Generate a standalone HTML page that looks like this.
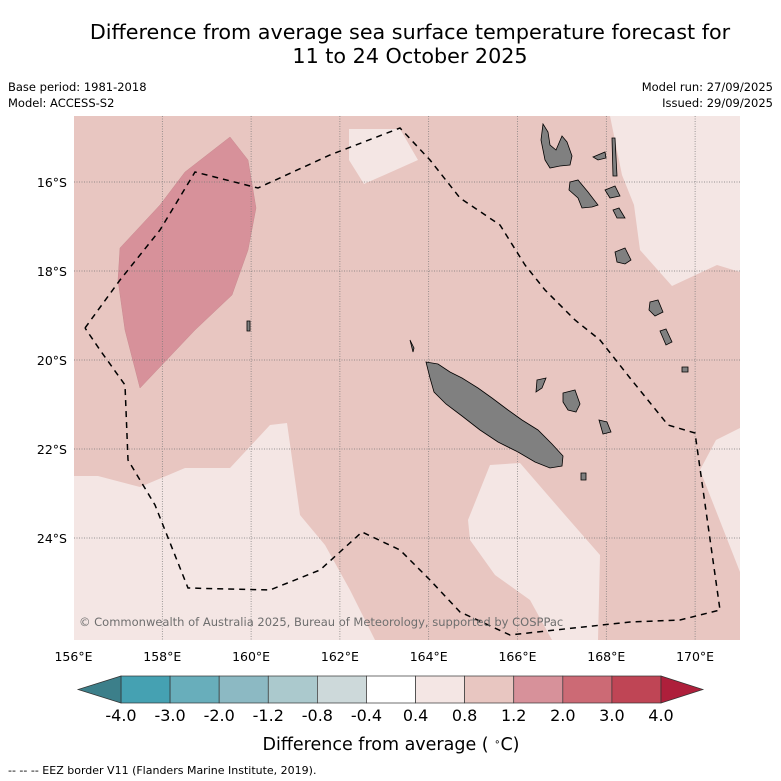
<!DOCTYPE html>
<html><head><meta charset="utf-8"><style>
body{margin:0;background:#fff;font-family:"DejaVu Sans","Liberation Sans",sans-serif}
svg{display:block}
</style></head><body>
<svg width="781" height="781" viewBox="0 0 781 781">
<text x="410" y="39" font-size="20.7" text-anchor="middle">Difference from average sea surface temperature forecast for</text>
<text x="410" y="63" font-size="20.7" text-anchor="middle">11 to 24 October 2025</text>
<text x="8" y="91" font-size="11.5">Base period: 1981-2018</text>
<text x="8" y="107" font-size="11.5">Model: ACCESS-S2</text>
<text x="773" y="91" font-size="11.5" text-anchor="end">Model run: 27/09/2025</text>
<text x="773" y="107" font-size="11.5" text-anchor="end">Issued: 29/09/2025</text>
<g id="map">
<rect x="74" y="116" width="666" height="524" fill="#e8c6c1"/>
<g fill="#f4e6e4">
<polygon points="349,129 400,129 418,160 364,184 349,160"/>
<polygon points="610,116 740,116 740,272 717,265 672,286 640,250 634,205 622,175"/>
<polygon points="740,428 716,440 700,470 740,572"/>
<polygon points="468,520 490,465 520,463 565,515 600,555 598,640 552,640 530,600 495,575 470,540"/>
<polygon points="74,476 98,476 140,487 185,468 230,468 270,425 287,423 300,515 325,545 350,590 375,640 74,640"/>
</g>
<polygon points="120,248 160,205 185,172 230,137 248,160 256,208 248,250 232,295 195,330 140,388 125,330 118,280" fill="#d7919a" stroke="#c98a90" stroke-width="0.5"/>
<g id="grid" stroke="#777" stroke-width="0.7" stroke-dasharray="1,1.5"></g>
<g fill="#808080" stroke="#000" stroke-width="0.8">
<polygon points="426,362 438,364 450,372 462,378 478,388 492,398 508,410 522,420 538,430 552,444 563,456 562,466 550,468 535,462 518,452 498,442 480,430 462,416 446,404 434,392 430,378"/>
<polygon points="543,124 548,132 550,145 556,150 562,136 567,142 572,156 570,165 560,166 550,168 545,160 541,140"/>
<polygon points="570,182 578,180 588,192 598,205 592,207 582,208 578,198 569,190"/>
<polygon points="593,157 605,152 606,158 598,160"/>
<polygon points="605,190 615,186 620,196 610,198"/>
<polygon points="612,138 615,138 617,176 613,176"/>
<polygon points="613,210 619,208 625,218 617,218"/>
<polygon points="615,252 625,248 631,260 625,264 617,262"/>
<polygon points="650,302 658,300 663,312 655,316 649,310"/>
<polygon points="660,331 666,329 672,342 666,345"/>
<polygon points="682,367 688,367 688,372 682,372"/>
<polygon points="563,393 575,390 580,404 576,412 568,410 563,402"/>
<polygon points="599,420 607,422 611,432 603,434"/>
<polygon points="581,473 586,473 586,480 581,480"/>
<polygon points="410,340 414,348 413,352"/>
<polygon points="247,321 250,321 250,331 247,331"/>
<polygon points="537,380 546,378 542,388 536,392"/>
</g>
<polyline fill="none" stroke="#000" stroke-width="1.5" stroke-dasharray="6,5" points="85,328 120,280 160,230 195,172 258,188 330,155 400,128 430,160 460,198 500,225 525,265 545,290 575,320 600,340 630,378 668,425 695,433 720,610 680,620 630,622 555,630 510,635 460,612 430,580 400,550 362,532 320,570 270,590 188,588 155,505 128,460 125,385 100,350 85,328"/>
<text x="79" y="626" font-size="11.5" fill="#6e6e6e">© Commonwealth of Australia 2025, Bureau of Meteorology, supported by COSPPac</text>
</g>
<g id="ticks" font-size="12.5"></g>
<g id="cbar"></g>
<text x="391" y="750" font-size="17.5" text-anchor="middle">Difference from average ( <tspan baseline-shift="super" font-size="10">∘</tspan>C)</text>
<text x="8" y="774" font-size="11">--  --  -- EEZ border V11 (Flanders Marine Institute, 2019).</text>
</svg>
<script>
const lonTicks=[156,158,160,162,164,166,168,170];
const latTicks=[16,18,20,22,24];
const levels=["-4.0","-3.0","-2.0","-1.2","-0.8","-0.4","0.4","0.8","1.2","2.0","3.0","4.0"];
const boxColors=["#45a1b2","#68aebb","#8cb9c3","#abc9cd","#cdd9da","#ffffff","#f4e6e4","#e8c6c1","#d7919a","#cc6a75","#bf4555"];
const extLow="#3c7f8a", extHigh="#ae1f3b";
const NS="http://www.w3.org/2000/svg";
const xLon=l=>73.5+(l-156)*44.4;
const yLat=l=>182+(l-16)*44.5;
function mk(t,a,p){const e=document.createElementNS(NS,t);for(const k in a)e.setAttribute(k,a[k]);p.appendChild(e);return e;}
const grid=document.getElementById('grid'),ticks=document.getElementById('ticks'),cb=document.getElementById('cbar');
lonTicks.forEach(l=>{const x=xLon(l);
 if(x>75&&x<739){const g=mk('line',{x1:x,y1:116,x2:x,y2:640},grid);
 
 }
 const t=mk('text',{x:x,y:661,'text-anchor':'middle'},ticks);t.textContent=l+'°E';
 
 });
latTicks.forEach(l=>{const y=yLat(l);
 const g=mk('line',{x1:74,y1:y,x2:740,y2:y},grid);
 
 
 const t=mk('text',{x:67,y:y+5,'text-anchor':'end'},ticks);t.textContent=l+'°S';
 
 });
const x0=121,y0=676,bh=27,bw=(661-121)/boxColors.length;
boxColors.forEach((c,i)=>{const r=mk('rect',{x:x0+i*bw,y:y0,width:bw,height:bh,fill:c,stroke:'#333','stroke-width':0.7},cb);
 
 });
const xe=x0+boxColors.length*bw;
const lo=mk('polygon',{points:`${x0},${y0} 78,${y0+bh/2} ${x0},${y0+bh}`,fill:extLow,stroke:'#333','stroke-width':0.7},cb);


const hi=mk('polygon',{points:`${xe},${y0} ${xe+42},${y0+bh/2} ${xe},${y0+bh}`,fill:extHigh,stroke:'#333','stroke-width':0.7},cb);


levels.forEach((v,i)=>{const t=mk('text',{x:x0+i*bw,y:721,'font-size':16,'text-anchor':'middle'},cb);t.textContent=v;
 
 });
</script>
</body></html>
